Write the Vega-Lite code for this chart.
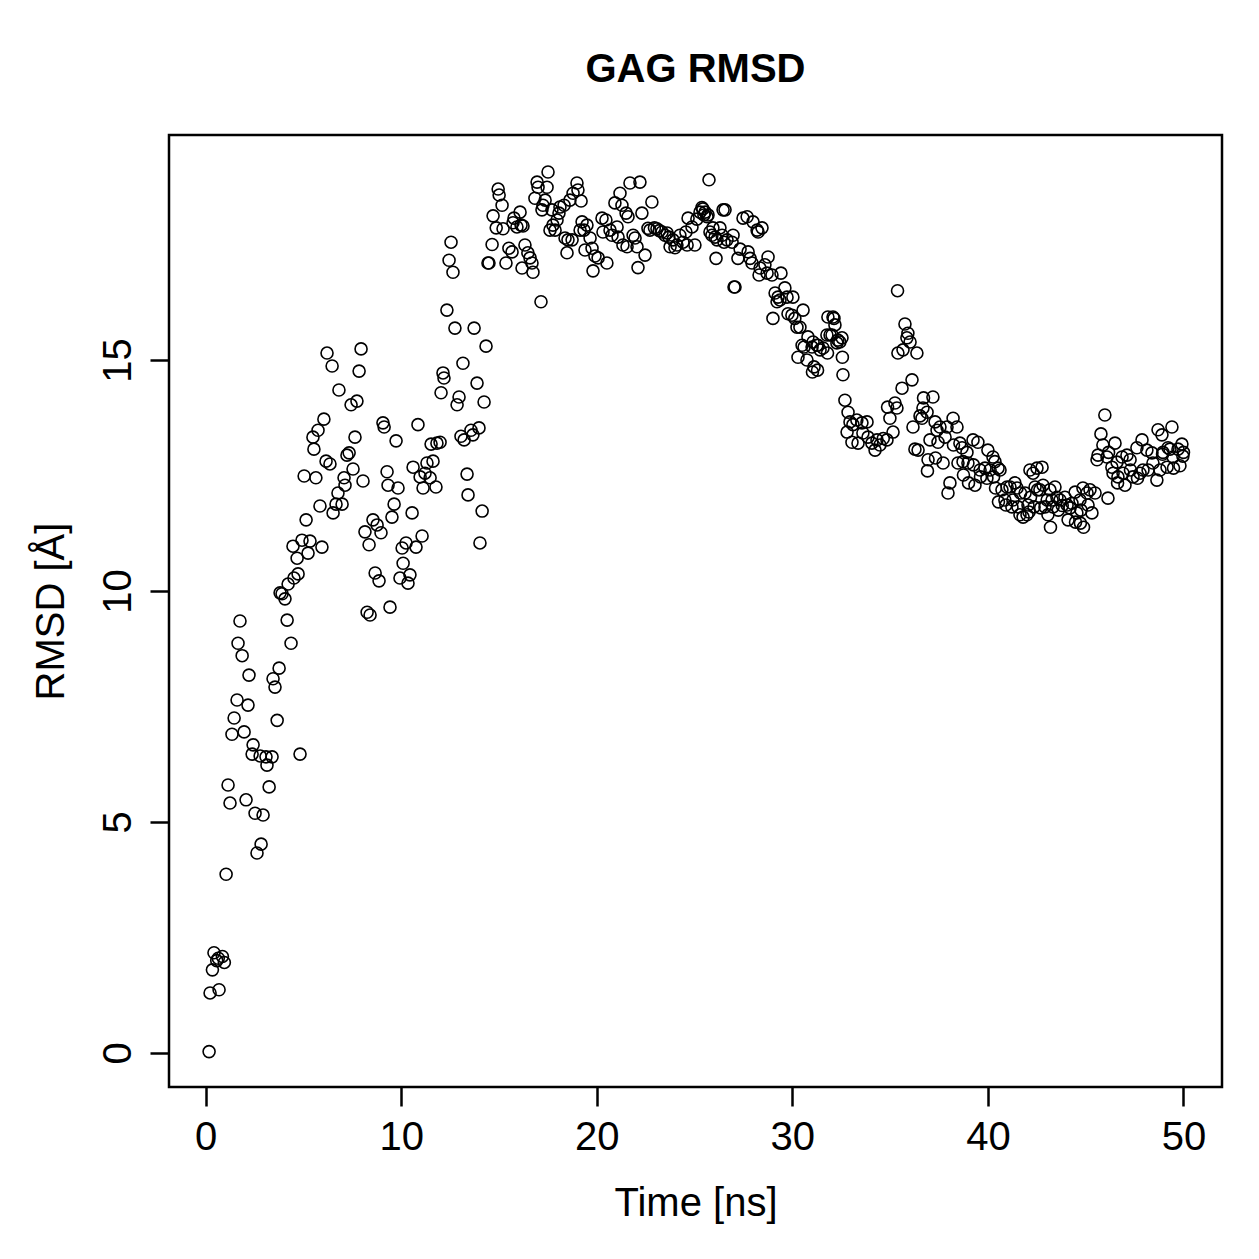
{
  "$schema": "https://vega.github.io/schema/vega-lite/v6.json",
  "autosize": {"type": "none"},
  "width": 1053,
  "height": 952,
  "padding": {"left": 169, "top": 135, "right": 37, "bottom": 172},
  "background": "white",
  "title": {"text": "GAG RMSD", "fontSize": 40, "fontWeight": "bold", "font": "Liberation Sans", "color": "black", "baseline": "alphabetic", "offset": 13, "anchor": "middle"},
  "config": {
    "view": {"stroke": "black", "strokeWidth": 2.5},
    "axis": {"grid": false, "domain": false, "tickColor": "black", "tickWidth": 2.5, "tickSize": 19, "labelFont": "Liberation Sans", "titleFont": "Liberation Sans", "labelFontSize": 40, "titleFontSize": 40, "labelColor": "black", "titleColor": "black", "titleFontWeight": "normal"}
  },
  "data": {"values": [
    {"t":0.18,"rmsd":0.03},{"t":0.23,"rmsd":1.3},{"t":0.35,"rmsd":1.8},{"t":0.43,"rmsd":2.17},{"t":0.57,"rmsd":2.0},{"t":0.65,"rmsd":2.05},{"t":0.69,"rmsd":1.37},{"t":0.86,"rmsd":2.09},{"t":0.96,"rmsd":1.96},{"t":1.05,"rmsd":3.87},
    {"t":1.15,"rmsd":5.8},{"t":1.25,"rmsd":5.41},{"t":1.35,"rmsd":6.9},{"t":1.46,"rmsd":7.25},{"t":1.61,"rmsd":7.64},{"t":1.66,"rmsd":8.87},{"t":1.76,"rmsd":9.35},{"t":1.87,"rmsd":8.6},{"t":1.97,"rmsd":6.95},{"t":2.07,"rmsd":5.48},
    {"t":2.17,"rmsd":7.53},{"t":2.22,"rmsd":8.18},{"t":2.38,"rmsd":6.47},{"t":2.43,"rmsd":6.67},{"t":2.53,"rmsd":5.19},{"t":2.63,"rmsd":4.33},{"t":2.79,"rmsd":6.43},{"t":2.84,"rmsd":4.52},{"t":2.94,"rmsd":5.15},{"t":3.09,"rmsd":6.41},
    {"t":3.14,"rmsd":6.23},{"t":3.25,"rmsd":5.76},{"t":3.4,"rmsd":6.41},{"t":3.45,"rmsd":8.1},{"t":3.55,"rmsd":7.92},{"t":3.66,"rmsd":7.2},{"t":3.76,"rmsd":8.33},{"t":3.81,"rmsd":9.96},{"t":3.91,"rmsd":9.94},{"t":4.06,"rmsd":9.83},
    {"t":4.17,"rmsd":9.37},{"t":4.22,"rmsd":10.15},{"t":4.37,"rmsd":8.87},{"t":4.47,"rmsd":10.97},{"t":4.52,"rmsd":10.28},{"t":4.68,"rmsd":10.71},{"t":4.73,"rmsd":10.37},{"t":4.83,"rmsd":6.47},{"t":4.93,"rmsd":11.1},{"t":5.04,"rmsd":12.49},
    {"t":5.14,"rmsd":11.54},{"t":5.24,"rmsd":10.82},{"t":5.34,"rmsd":11.08},{"t":5.49,"rmsd":13.33},{"t":5.54,"rmsd":13.07},{"t":5.64,"rmsd":12.45},{"t":5.75,"rmsd":13.48},{"t":5.85,"rmsd":11.84},{"t":5.95,"rmsd":10.95},{"t":6.05,"rmsd":13.72},
    {"t":6.16,"rmsd":12.81},{"t":6.21,"rmsd":15.15},{"t":6.36,"rmsd":12.75},{"t":6.47,"rmsd":14.87},{"t":6.52,"rmsd":11.69},{"t":6.67,"rmsd":11.88},{"t":6.77,"rmsd":12.12},{"t":6.82,"rmsd":14.35},{"t":6.98,"rmsd":11.88},{"t":7.08,"rmsd":12.45},
    {"t":7.13,"rmsd":12.29},{"t":7.23,"rmsd":12.94},{"t":7.34,"rmsd":12.99},{"t":7.44,"rmsd":14.03},{"t":7.54,"rmsd":12.64},{"t":7.64,"rmsd":13.33},{"t":7.74,"rmsd":14.11},{"t":7.85,"rmsd":14.76},{"t":7.95,"rmsd":15.24},{"t":8.05,"rmsd":12.38},
    {"t":8.15,"rmsd":11.28},{"t":8.26,"rmsd":9.54},{"t":8.36,"rmsd":11.0},{"t":8.41,"rmsd":9.48},{"t":8.56,"rmsd":11.54},{"t":8.67,"rmsd":10.39},{"t":8.77,"rmsd":11.43},{"t":8.87,"rmsd":10.22},{"t":8.97,"rmsd":11.26},{"t":9.07,"rmsd":13.64},
    {"t":9.13,"rmsd":13.55},{"t":9.28,"rmsd":12.58},{"t":9.33,"rmsd":12.29},{"t":9.43,"rmsd":9.65},{"t":9.53,"rmsd":11.6},{"t":9.64,"rmsd":11.88},{"t":9.74,"rmsd":13.25},{"t":9.84,"rmsd":12.23},{"t":9.94,"rmsd":10.28},{"t":10.05,"rmsd":10.93},
    {"t":10.1,"rmsd":10.6},{"t":10.25,"rmsd":11.04},{"t":10.35,"rmsd":10.17},{"t":10.45,"rmsd":10.35},{"t":10.56,"rmsd":11.69},{"t":10.61,"rmsd":12.68},{"t":10.76,"rmsd":10.95},{"t":10.86,"rmsd":13.6},{"t":10.97,"rmsd":12.47},{"t":11.07,"rmsd":11.19},
    {"t":11.12,"rmsd":12.23},{"t":11.22,"rmsd":12.55},{"t":11.32,"rmsd":12.77},{"t":11.48,"rmsd":12.45},{"t":11.53,"rmsd":13.18},{"t":11.63,"rmsd":12.81},{"t":11.78,"rmsd":12.25},{"t":11.83,"rmsd":13.2},{"t":11.99,"rmsd":13.22},{"t":12.04,"rmsd":14.29},
    {"t":12.14,"rmsd":14.72},{"t":12.19,"rmsd":14.61},{"t":12.34,"rmsd":16.08},{"t":12.45,"rmsd":17.16},{"t":12.55,"rmsd":17.55},{"t":12.65,"rmsd":16.9},{"t":12.75,"rmsd":15.69},{"t":12.86,"rmsd":14.03},{"t":12.96,"rmsd":14.2},{"t":13.06,"rmsd":13.35},
    {"t":13.16,"rmsd":14.93},{"t":13.22,"rmsd":13.27},{"t":13.37,"rmsd":12.53},{"t":13.42,"rmsd":12.08},{"t":13.57,"rmsd":13.48},{"t":13.67,"rmsd":13.38},{"t":13.73,"rmsd":15.69},{"t":13.88,"rmsd":14.5},{"t":13.98,"rmsd":13.53},{"t":14.03,"rmsd":11.04},
    {"t":14.14,"rmsd":11.73},{"t":14.24,"rmsd":14.09},{"t":14.34,"rmsd":15.3},{"t":14.44,"rmsd":17.1},{"t":14.49,"rmsd":17.1},{"t":14.65,"rmsd":17.5},{"t":14.7,"rmsd":18.12},{"t":14.86,"rmsd":17.86},{"t":14.96,"rmsd":18.7},{"t":15.01,"rmsd":18.57},
    {"t":15.16,"rmsd":18.35},{"t":15.21,"rmsd":17.84},{"t":15.36,"rmsd":17.1},{"t":15.51,"rmsd":17.42},{"t":15.67,"rmsd":17.34},{"t":15.72,"rmsd":17.97},{"t":15.77,"rmsd":18.07},{"t":15.92,"rmsd":17.88},{"t":16.08,"rmsd":18.2},{"t":16.13,"rmsd":17.92},
    {"t":16.18,"rmsd":16.99},{"t":16.23,"rmsd":17.9},{"t":16.33,"rmsd":17.49},{"t":16.48,"rmsd":17.32},{"t":16.59,"rmsd":17.21},{"t":16.69,"rmsd":17.1},{"t":16.74,"rmsd":16.9},{"t":16.84,"rmsd":18.5},{"t":16.95,"rmsd":18.85},{"t":17.0,"rmsd":18.74},
    {"t":17.15,"rmsd":16.26},{"t":17.2,"rmsd":18.25},{"t":17.25,"rmsd":18.35},{"t":17.36,"rmsd":18.46},{"t":17.46,"rmsd":18.74},{"t":17.51,"rmsd":19.07},{"t":17.61,"rmsd":17.81},{"t":17.71,"rmsd":18.25},{"t":17.76,"rmsd":17.92},{"t":17.87,"rmsd":17.81},
    {"t":17.97,"rmsd":18.03},{"t":18.07,"rmsd":18.18},{"t":18.12,"rmsd":18.31},{"t":18.33,"rmsd":18.35},{"t":18.38,"rmsd":17.64},{"t":18.48,"rmsd":17.32},{"t":18.53,"rmsd":17.6},{"t":18.63,"rmsd":18.46},{"t":18.74,"rmsd":17.6},{"t":18.79,"rmsd":18.61},
    {"t":18.99,"rmsd":18.83},{"t":19.04,"rmsd":18.68},{"t":19.15,"rmsd":17.81},{"t":19.2,"rmsd":18.44},{"t":19.25,"rmsd":17.99},{"t":19.35,"rmsd":17.81},{"t":19.4,"rmsd":17.38},{"t":19.5,"rmsd":17.92},{"t":19.66,"rmsd":17.64},{"t":19.76,"rmsd":17.42},
    {"t":19.81,"rmsd":16.93},{"t":19.91,"rmsd":17.25},{"t":20.07,"rmsd":17.21},{"t":20.27,"rmsd":18.07},{"t":20.32,"rmsd":17.77},{"t":20.47,"rmsd":18.03},{"t":20.52,"rmsd":17.1},{"t":20.68,"rmsd":17.81},{"t":20.78,"rmsd":17.7},{"t":20.93,"rmsd":18.4},
    {"t":21.04,"rmsd":17.88},{"t":21.09,"rmsd":17.66},{"t":21.19,"rmsd":18.61},{"t":21.29,"rmsd":18.35},{"t":21.34,"rmsd":17.49},{"t":21.5,"rmsd":18.18},{"t":21.55,"rmsd":17.45},{"t":21.6,"rmsd":18.1},{"t":21.7,"rmsd":18.83},{"t":21.86,"rmsd":17.7},
    {"t":21.96,"rmsd":17.64},{"t":22.06,"rmsd":17.45},{"t":22.11,"rmsd":17.0},{"t":22.21,"rmsd":18.85},{"t":22.31,"rmsd":18.18},{"t":22.47,"rmsd":17.27},{"t":22.62,"rmsd":17.85},{"t":22.72,"rmsd":17.81},{"t":22.82,"rmsd":18.42},{"t":22.95,"rmsd":17.86},
    {"t":23.08,"rmsd":17.84},{"t":23.2,"rmsd":17.8},{"t":23.34,"rmsd":17.77},{"t":23.49,"rmsd":17.7},{"t":23.6,"rmsd":17.75},{"t":23.69,"rmsd":17.66},{"t":23.75,"rmsd":17.45},{"t":23.9,"rmsd":17.6},{"t":24.0,"rmsd":17.43},{"t":24.1,"rmsd":17.49},
    {"t":24.25,"rmsd":17.7},{"t":24.41,"rmsd":17.55},{"t":24.56,"rmsd":17.77},{"t":24.62,"rmsd":17.49},{"t":24.67,"rmsd":18.07},{"t":24.87,"rmsd":17.88},{"t":25.02,"rmsd":17.49},{"t":25.12,"rmsd":18.05},{"t":25.28,"rmsd":18.2},{"t":25.38,"rmsd":18.3},
    {"t":25.43,"rmsd":18.27},{"t":25.48,"rmsd":18.14},{"t":25.54,"rmsd":18.2},{"t":25.64,"rmsd":18.1},{"t":25.69,"rmsd":18.14},{"t":25.74,"rmsd":18.9},{"t":25.79,"rmsd":17.77},{"t":25.89,"rmsd":17.7},{"t":25.94,"rmsd":17.86},{"t":26.05,"rmsd":17.66},
    {"t":26.1,"rmsd":17.2},{"t":26.15,"rmsd":17.6},{"t":26.3,"rmsd":17.86},{"t":26.41,"rmsd":17.7},{"t":26.46,"rmsd":18.25},{"t":26.51,"rmsd":17.55},{"t":26.56,"rmsd":18.25},{"t":26.66,"rmsd":17.6},{"t":26.92,"rmsd":17.55},{"t":26.97,"rmsd":17.7},
    {"t":27.02,"rmsd":16.58},{"t":27.07,"rmsd":16.58},{"t":27.22,"rmsd":17.2},{"t":27.33,"rmsd":17.4},{"t":27.48,"rmsd":18.07},{"t":27.69,"rmsd":18.1},{"t":27.74,"rmsd":17.34},{"t":27.84,"rmsd":17.2},{"t":27.94,"rmsd":17.1},{"t":27.99,"rmsd":17.99},
    {"t":28.2,"rmsd":17.81},{"t":28.25,"rmsd":17.77},{"t":28.3,"rmsd":16.84},{"t":28.35,"rmsd":16.99},{"t":28.45,"rmsd":17.86},{"t":28.6,"rmsd":17.06},{"t":28.71,"rmsd":16.88},{"t":28.76,"rmsd":17.23},{"t":28.96,"rmsd":16.84},{"t":29.01,"rmsd":15.9},
    {"t":29.12,"rmsd":16.45},{"t":29.22,"rmsd":16.26},{"t":29.27,"rmsd":16.36},{"t":29.37,"rmsd":16.3},{"t":29.42,"rmsd":16.88},{"t":29.62,"rmsd":16.56},{"t":29.73,"rmsd":16.36},{"t":29.78,"rmsd":16.0},{"t":29.98,"rmsd":15.97},{"t":30.03,"rmsd":16.36},
    {"t":30.13,"rmsd":15.9},{"t":30.24,"rmsd":15.71},{"t":30.29,"rmsd":15.06},{"t":30.39,"rmsd":15.71},{"t":30.5,"rmsd":15.32},{"t":30.55,"rmsd":16.08},{"t":30.6,"rmsd":15.28},{"t":30.75,"rmsd":15.0},{"t":30.8,"rmsd":15.5},{"t":31.01,"rmsd":15.28},
    {"t":31.03,"rmsd":14.74},{"t":31.06,"rmsd":15.39},{"t":31.11,"rmsd":14.85},{"t":31.26,"rmsd":15.32},{"t":31.29,"rmsd":14.78},{"t":31.31,"rmsd":15.32},{"t":31.42,"rmsd":15.22},{"t":31.57,"rmsd":15.26},{"t":31.77,"rmsd":15.54},{"t":31.8,"rmsd":15.15},
    {"t":31.82,"rmsd":15.93},{"t":31.93,"rmsd":15.54},{"t":32.03,"rmsd":15.54},{"t":32.08,"rmsd":15.93},{"t":32.13,"rmsd":15.9},{"t":32.18,"rmsd":15.76},{"t":32.28,"rmsd":15.37},{"t":32.33,"rmsd":15.43},{"t":32.43,"rmsd":15.39},{"t":32.54,"rmsd":15.48},
    {"t":32.56,"rmsd":15.06},{"t":32.59,"rmsd":14.68},{"t":32.69,"rmsd":14.13},{"t":32.8,"rmsd":13.44},{"t":32.85,"rmsd":13.87},{"t":32.95,"rmsd":13.66},{"t":33.05,"rmsd":13.22},{"t":33.1,"rmsd":13.6},{"t":33.3,"rmsd":13.7},{"t":33.36,"rmsd":13.2},
    {"t":33.56,"rmsd":13.64},{"t":33.61,"rmsd":13.42},{"t":33.82,"rmsd":13.66},{"t":33.87,"rmsd":13.33},{"t":34.07,"rmsd":13.2},{"t":34.23,"rmsd":13.05},{"t":34.33,"rmsd":13.27},{"t":34.48,"rmsd":13.16},{"t":34.65,"rmsd":13.3},{"t":34.84,"rmsd":13.27},
    {"t":34.87,"rmsd":13.98},{"t":34.99,"rmsd":13.74},{"t":35.15,"rmsd":13.44},{"t":35.25,"rmsd":14.07},{"t":35.35,"rmsd":13.96},{"t":35.38,"rmsd":16.5},{"t":35.4,"rmsd":15.15},{"t":35.61,"rmsd":14.39},{"t":35.66,"rmsd":15.22},{"t":35.76,"rmsd":15.78},
    {"t":35.86,"rmsd":15.48},{"t":35.91,"rmsd":15.58},{"t":36.02,"rmsd":15.39},{"t":36.12,"rmsd":14.57},{"t":36.17,"rmsd":13.55},{"t":36.27,"rmsd":13.07},{"t":36.37,"rmsd":15.15},{"t":36.43,"rmsd":13.05},{"t":36.53,"rmsd":13.79},{"t":36.63,"rmsd":13.74},
    {"t":36.68,"rmsd":13.96},{"t":36.71,"rmsd":14.18},{"t":36.89,"rmsd":13.87},{"t":36.91,"rmsd":12.6},{"t":36.94,"rmsd":12.84},{"t":37.04,"rmsd":13.27},{"t":37.19,"rmsd":14.2},{"t":37.3,"rmsd":13.66},{"t":37.32,"rmsd":12.88},{"t":37.4,"rmsd":13.48},
    {"t":37.45,"rmsd":13.22},{"t":37.55,"rmsd":13.55},{"t":37.71,"rmsd":12.77},{"t":37.81,"rmsd":13.33},{"t":37.91,"rmsd":13.55},{"t":37.96,"rmsd":12.12},{"t":38.06,"rmsd":12.34},{"t":38.22,"rmsd":13.74},{"t":38.24,"rmsd":13.16},{"t":38.42,"rmsd":13.55},
    {"t":38.47,"rmsd":12.77},{"t":38.57,"rmsd":13.2},{"t":38.68,"rmsd":13.1},{"t":38.73,"rmsd":12.8},{"t":38.75,"rmsd":12.51},{"t":38.93,"rmsd":13.0},{"t":38.98,"rmsd":12.77},{"t":39.01,"rmsd":12.34},{"t":39.24,"rmsd":13.27},{"t":39.26,"rmsd":12.73},
    {"t":39.34,"rmsd":12.29},{"t":39.49,"rmsd":13.22},{"t":39.6,"rmsd":12.62},{"t":39.62,"rmsd":12.47},{"t":39.85,"rmsd":12.66},{"t":39.95,"rmsd":12.44},{"t":40.0,"rmsd":13.05},{"t":40.11,"rmsd":12.62},{"t":40.26,"rmsd":12.9},{"t":40.29,"rmsd":12.47},
    {"t":40.36,"rmsd":12.8},{"t":40.39,"rmsd":12.23},{"t":40.52,"rmsd":12.66},{"t":40.54,"rmsd":11.93},{"t":40.62,"rmsd":12.62},{"t":40.72,"rmsd":12.19},{"t":40.87,"rmsd":11.97},{"t":40.92,"rmsd":11.86},{"t":40.98,"rmsd":12.25},{"t":41.13,"rmsd":12.25},
    {"t":41.23,"rmsd":11.82},{"t":41.28,"rmsd":11.97},{"t":41.38,"rmsd":12.34},{"t":41.49,"rmsd":12.23},{"t":41.54,"rmsd":11.82},{"t":41.64,"rmsd":11.65},{"t":41.67,"rmsd":12.12},{"t":41.8,"rmsd":11.6},{"t":41.9,"rmsd":12.12},{"t":42.0,"rmsd":11.65},
    {"t":42.05,"rmsd":11.86},{"t":42.1,"rmsd":11.71},{"t":42.15,"rmsd":12.62},{"t":42.18,"rmsd":12.03},{"t":42.31,"rmsd":12.55},{"t":42.36,"rmsd":11.82},{"t":42.41,"rmsd":12.25},{"t":42.51,"rmsd":12.66},{"t":42.54,"rmsd":12.19},{"t":42.66,"rmsd":12.19},
    {"t":42.7,"rmsd":11.8},{"t":42.77,"rmsd":12.68},{"t":42.82,"rmsd":12.29},{"t":42.92,"rmsd":11.82},{"t":43.03,"rmsd":11.97},{"t":43.07,"rmsd":11.65},{"t":43.17,"rmsd":12.19},{"t":43.2,"rmsd":11.38},{"t":43.28,"rmsd":11.97},{"t":43.33,"rmsd":11.82},
    {"t":43.43,"rmsd":12.25},{"t":43.53,"rmsd":12.03},{"t":43.6,"rmsd":11.75},{"t":43.69,"rmsd":11.97},{"t":43.8,"rmsd":11.85},{"t":43.94,"rmsd":12.03},{"t":44.05,"rmsd":11.86},{"t":44.1,"rmsd":11.54},{"t":44.2,"rmsd":11.8},{"t":44.3,"rmsd":11.9},
    {"t":44.46,"rmsd":12.14},{"t":44.48,"rmsd":11.49},{"t":44.55,"rmsd":11.69},{"t":44.71,"rmsd":11.97},{"t":44.73,"rmsd":11.47},{"t":44.76,"rmsd":11.75},{"t":44.86,"rmsd":12.23},{"t":44.89,"rmsd":11.38},{"t":45.07,"rmsd":12.12},{"t":45.12,"rmsd":11.86},
    {"t":45.22,"rmsd":12.19},{"t":45.32,"rmsd":11.69},{"t":45.48,"rmsd":12.12},{"t":45.58,"rmsd":12.84},{"t":45.63,"rmsd":12.94},{"t":45.78,"rmsd":13.4},{"t":45.88,"rmsd":13.16},{"t":45.98,"rmsd":13.81},{"t":46.09,"rmsd":12.9},{"t":46.14,"rmsd":12.01},
    {"t":46.17,"rmsd":13.0},{"t":46.34,"rmsd":12.68},{"t":46.4,"rmsd":12.55},{"t":46.5,"rmsd":13.2},{"t":46.6,"rmsd":12.79},{"t":46.63,"rmsd":12.34},{"t":46.65,"rmsd":12.47},{"t":46.86,"rmsd":12.9},{"t":46.91,"rmsd":12.55},{"t":47.01,"rmsd":12.29},
    {"t":47.11,"rmsd":12.94},{"t":47.27,"rmsd":12.84},{"t":47.29,"rmsd":12.62},{"t":47.42,"rmsd":12.47},{"t":47.62,"rmsd":13.1},{"t":47.65,"rmsd":12.44},{"t":47.78,"rmsd":12.55},{"t":47.88,"rmsd":13.27},{"t":47.93,"rmsd":12.62},{"t":48.13,"rmsd":13.05},
    {"t":48.19,"rmsd":12.62},{"t":48.39,"rmsd":12.99},{"t":48.44,"rmsd":12.77},{"t":48.64,"rmsd":12.4},{"t":48.7,"rmsd":13.49},{"t":48.8,"rmsd":12.62},{"t":48.9,"rmsd":13.38},{"t":48.93,"rmsd":12.96},{"t":48.95,"rmsd":13.0},{"t":49.16,"rmsd":12.68},
    {"t":49.21,"rmsd":13.1},{"t":49.31,"rmsd":13.07},{"t":49.41,"rmsd":13.55},{"t":49.47,"rmsd":12.9},{"t":49.49,"rmsd":12.66},{"t":49.72,"rmsd":13.07},{"t":49.82,"rmsd":12.71},{"t":49.92,"rmsd":13.18},{"t":49.97,"rmsd":12.92},{"t":50.0,"rmsd":13.0}
  ]},
  "mark": {"type": "point", "shape": "circle", "filled": false, "color": "black", "opacity": 1, "strokeWidth": 1.6, "size": 144},
  "encoding": {
    "x": {
      "field": "t", "type": "quantitative",
      "scale": {"domain": [-1.87, 51.97], "nice": false, "zero": false},
      "axis": {"values": [0, 10, 20, 30, 40, 50], "labelBaseline": "alphabetic", "labelPadding": 43, "labelFlush": false, "labelOverlap": false, "title": "Time [ns]", "titleBaseline": "alphabetic", "titleX": 526.5, "titleY": 128, "titleAnchor": "middle", "titleAlign": "center"}
    },
    "y": {
      "field": "rmsd", "type": "quantitative",
      "scale": {"domain": [-0.736, 19.87], "nice": false, "zero": false},
      "axis": {"values": [0, 5, 10, 15], "labelAngle": -90, "labelAlign": "center", "labelBaseline": "alphabetic", "labelPadding": 20, "labelFlush": false, "labelOverlap": false, "title": "RMSD [Å]", "titleAngle": -90, "titleAlign": "center", "titleBaseline": "alphabetic", "titleX": -106, "titleY": 476, "titleAnchor": "middle"}
    }
  }
}
